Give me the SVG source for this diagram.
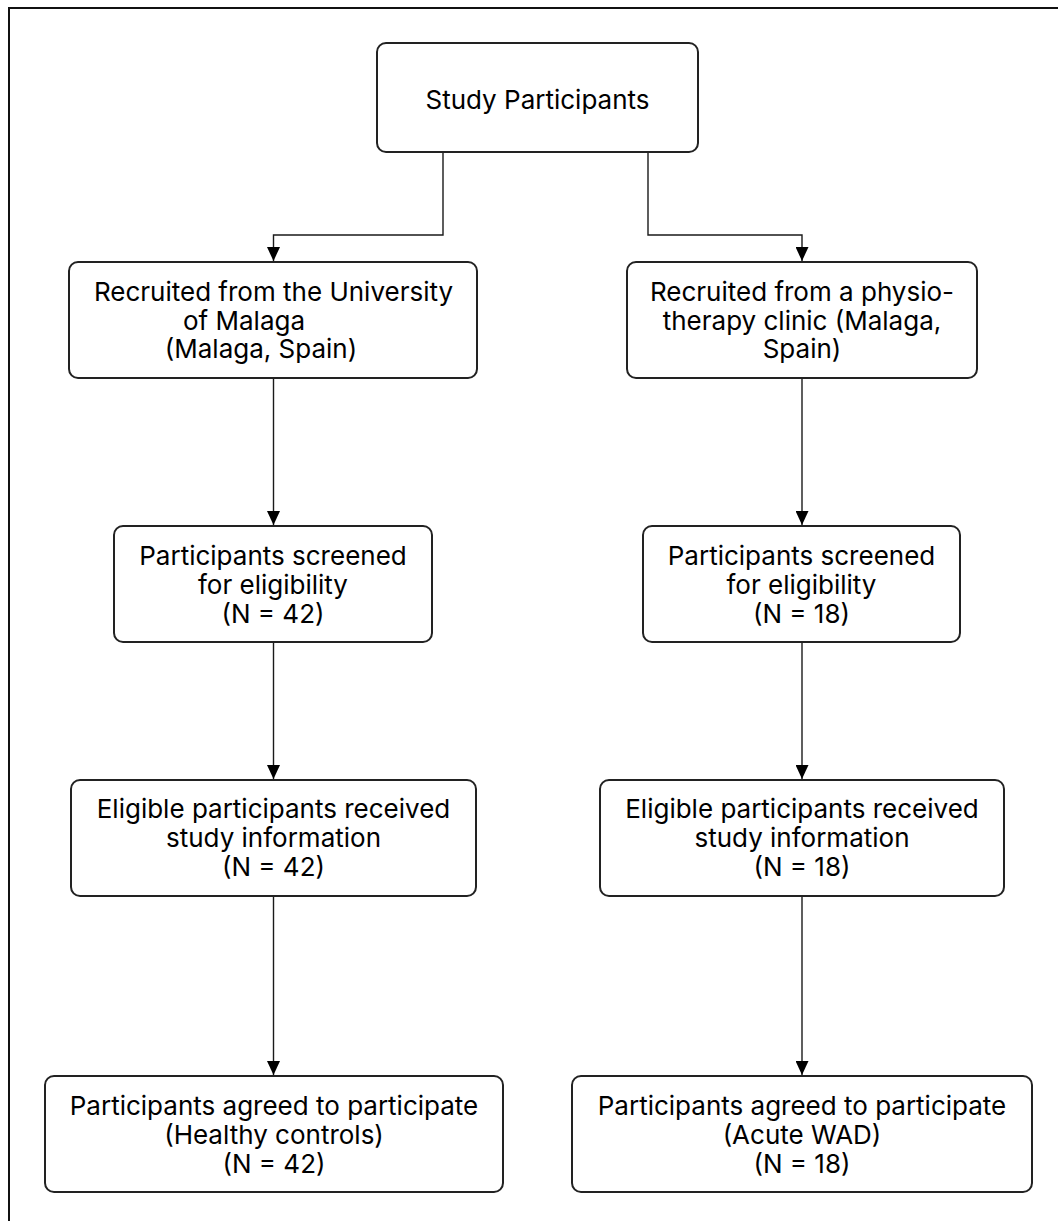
<svg xmlns="http://www.w3.org/2000/svg" width="1058" height="1221" viewBox="0 0 1058 1221">
<style>
  .box { fill: #ffffff; stroke: #222222; stroke-width: 2; }
  .lbl { font-family: Inter, "Liberation Sans", sans-serif; font-size: 26px; fill: #000000; text-anchor: middle; }
  .conn { fill: none; stroke: #1a1a1a; stroke-width: 1.4; }
</style>
<defs>
  <marker id="arr" viewBox="0 0 14 13" refX="14" refY="6.5" markerWidth="14" markerHeight="13" markerUnits="userSpaceOnUse" orient="auto">
    <path d="M0,0 L14,6.5 L0,13 Z" fill="#000000"/>
  </marker>
</defs>
<rect width="1058" height="1221" fill="#ffffff"/>
<rect x="9" y="8" width="1200" height="1400" fill="none" stroke="#111111" stroke-width="2"/>

<g id="connectors">
  <path class="conn" d="M443,152 V235 H273.5 V261" marker-end="url(#arr)"/>
  <path class="conn" d="M648,152 V235 H802 V261" marker-end="url(#arr)"/>
  <path class="conn" d="M273.5,378 V525" marker-end="url(#arr)"/>
  <path class="conn" d="M802,378 V525" marker-end="url(#arr)"/>
  <path class="conn" d="M273.5,642 V779" marker-end="url(#arr)"/>
  <path class="conn" d="M802,642 V779" marker-end="url(#arr)"/>
  <path class="conn" d="M273.5,896 V1075" marker-end="url(#arr)"/>
  <path class="conn" d="M802,896 V1075" marker-end="url(#arr)"/>
</g>

<g id="study">
  <rect class="box" x="377" y="43" width="321" height="109" rx="9"/>
  <text class="lbl" x="537.5" y="108.5">Study Participants</text>
</g>

<g id="recruit-uni">
  <rect class="box" x="69" y="262" width="408" height="116" rx="9"/>
  <text class="lbl" x="273.5" y="301">Recruited from the University</text>
  <text class="lbl" x="244" y="330">of Malaga</text>
  <text class="lbl" x="261" y="358">(Malaga, Spain)</text>
</g>

<g id="recruit-clinic">
  <rect class="box" x="627" y="262" width="350" height="116" rx="9"/>
  <text class="lbl" x="802" y="301">Recruited from a physio-</text>
  <text class="lbl" x="802" y="330">therapy clinic (Malaga,</text>
  <text class="lbl" x="802" y="358">Spain)</text>
</g>

<g id="screened-hc">
  <rect class="box" x="114" y="526" width="318" height="116" rx="9"/>
  <text class="lbl" x="273" y="564.5">Participants screened</text>
  <text class="lbl" x="273" y="594">for eligibility</text>
  <text class="lbl" x="273" y="623">(N = 42)</text>
</g>

<g id="screened-wad">
  <rect class="box" x="643" y="526" width="317" height="116" rx="9"/>
  <text class="lbl" x="801.5" y="564.5">Participants screened</text>
  <text class="lbl" x="801.5" y="594">for eligibility</text>
  <text class="lbl" x="801.5" y="623">(N = 18)</text>
</g>

<g id="info-hc">
  <rect class="box" x="71" y="780" width="405" height="116" rx="9"/>
  <text class="lbl" x="273.5" y="817.5">Eligible participants received</text>
  <text class="lbl" x="273.5" y="847">study information</text>
  <text class="lbl" x="273.5" y="876">(N = 42)</text>
</g>

<g id="info-wad">
  <rect class="box" x="600" y="780" width="404" height="116" rx="9"/>
  <text class="lbl" x="802" y="817.5">Eligible participants received</text>
  <text class="lbl" x="802" y="847">study information</text>
  <text class="lbl" x="802" y="876">(N = 18)</text>
</g>

<g id="agreed-hc">
  <rect class="box" x="45" y="1076" width="458" height="116" rx="9"/>
  <text class="lbl" x="274" y="1114.5">Participants agreed to participate</text>
  <text class="lbl" x="274" y="1143.5">(Healthy controls)</text>
  <text class="lbl" x="274" y="1172.5">(N = 42)</text>
</g>

<g id="agreed-wad">
  <rect class="box" x="572" y="1076" width="460" height="116" rx="9"/>
  <text class="lbl" x="802" y="1114.5">Participants agreed to participate</text>
  <text class="lbl" x="802" y="1143.5">(Acute WAD)</text>
  <text class="lbl" x="802" y="1172.5">(N = 18)</text>
</g>
</svg>
